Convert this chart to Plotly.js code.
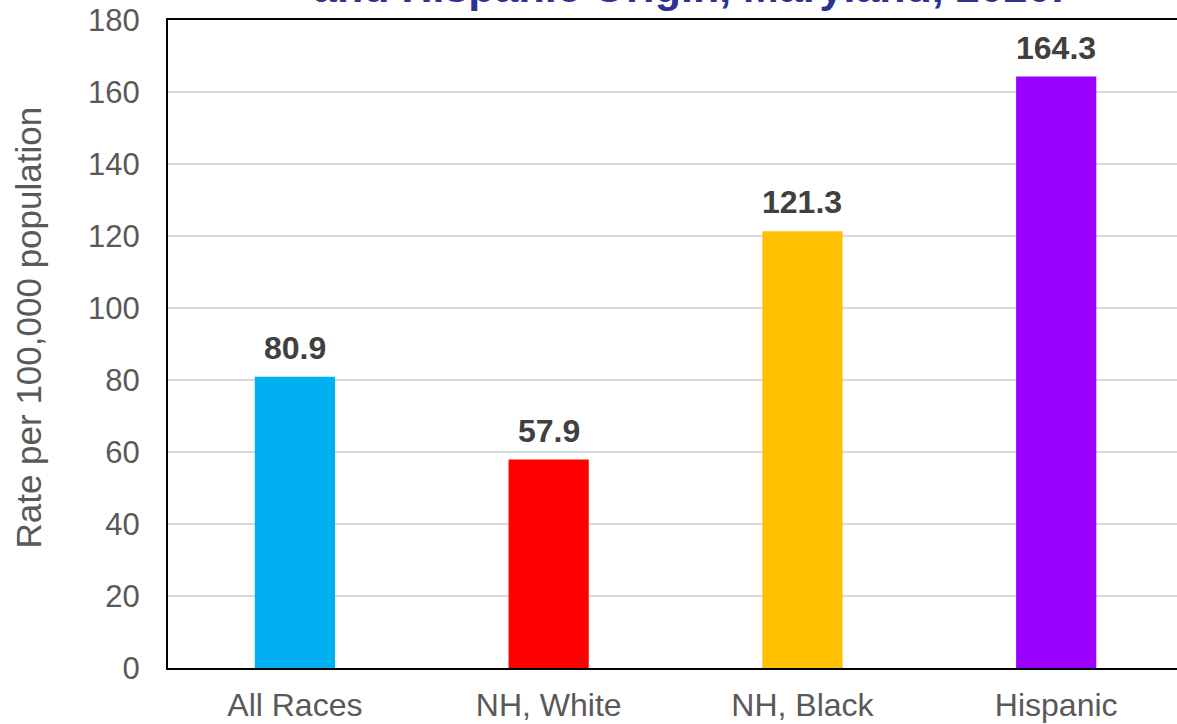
<!DOCTYPE html>
<html>
<head>
<meta charset="utf-8">
<script src="https://cdn.plot.ly/plotly-3.0.1.min.js"></script>
<style>html,body{margin:0;padding:0;background:#fff;}#chart{width:1177px;height:724px;}</style>
</head>
<body>
<div id="chart"></div>
<script>
const categories = ["All Races", "NH, White", "NH, Black", "Hispanic"];
const rates = [80.9, 57.9, 121.3, 164.3];
const barColors = ["#00B0F0", "#FF0000", "#FFC000", "#9900FF"];
const titleText = "and Hispanic Origin, Maryland, 2020.";
const yTitle = "Rate per 100,000 population";

const FONT = "Liberation Sans, Arial, sans-serif";

const trace = {
  type: "bar",
  x: categories,
  y: rates,
  marker: {color: barColors},
  width: 0.316,
  hoverinfo: "x+y"
};

const annotations = categories.map((c, i) => ({
  x: c, y: rates[i], xref: "x", yref: "y",
  text: "<b>" + rates[i].toFixed(1) + "</b>",
  showarrow: false, yanchor: "bottom", yshift: 9,
  font: {family: FONT, size: 32, color: "#404040"}
}));

annotations.push({
  text: yTitle, textangle: -90, showarrow: false,
  xref: "paper", yref: "paper",
  x: -0.138, xanchor: "center",
  y: 0.525, yanchor: "middle",
  font: {family: FONT, size: 35, color: "#595959"}
});

// chart title (partly cut off at the top edge, as in the reference)
annotations.push({
  text: "<b>" + titleText + "</b>", showarrow: false,
  xref: "paper", yref: "paper",
  x: 0.5154, xanchor: "center",
  y: 1.0509, yanchor: "middle",
  font: {family: FONT, size: 43, color: "#2E3192"}
});

const layout = {
  width: 1177, height: 724,
  margin: {l: 168, r: 0, t: 20, b: 56},
  paper_bgcolor: "#ffffff", plot_bgcolor: "#ffffff",
  showlegend: false,
  xaxis: {
    type: "category",
    range: [-0.5, 3.476],
    showline: true, linecolor: "#000000", linewidth: 2, mirror: true,
    showgrid: false, ticks: "",
    tickfont: {family: FONT, size: 32, color: "#595959"},
    ticklabelstandoff: 8
  },
  yaxis: {
    range: [0, 180], dtick: 20,
    showline: true, linecolor: "#000000", linewidth: 2,
    showgrid: true, gridcolor: "#D9D9D9", gridwidth: 2,
    zeroline: false, ticks: "",
    tickfont: {family: FONT, size: 31, color: "#595959"},
    ticklabelstandoff: 20
  },
  annotations: annotations,
  bargap: 0.684
};

Plotly.newPlot("chart", [trace], layout, {displayModeBar: false, responsive: false});
</script>
</body>
</html>
